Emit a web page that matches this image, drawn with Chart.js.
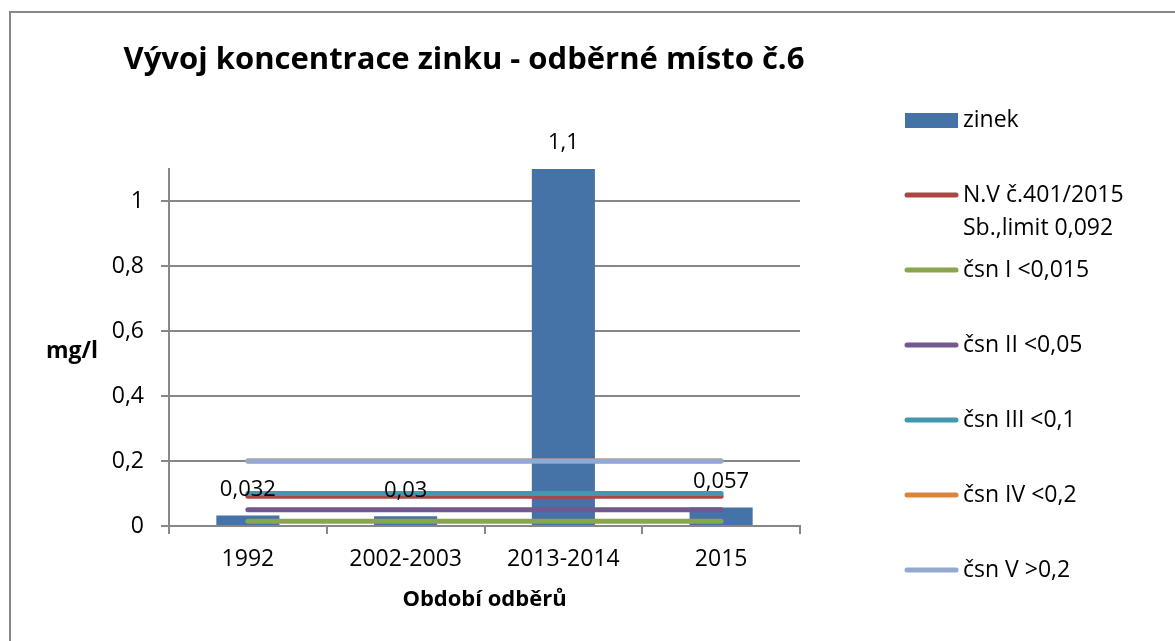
<!DOCTYPE html>
<html lang="cs">
<head>
<meta charset="utf-8">
<title>Vývoj koncentrace zinku</title>
<script src="https://cdn.jsdelivr.net/npm/chart.js@4.4.1/dist/chart.umd.min.js"></script>
<style>
  html, body { margin: 0; padding: 0; background: #fff; }
  #wrap { width: 1175px; height: 641px; position: relative; }
</style>
</head>
<body>
<div id="wrap"><canvas id="zincChart"></canvas></div>
<script>
/* ============================
   DATA
   ============================ */

const periods = ["1992", "2002-2003", "2013-2014", "2015"];

const zinc = [0.032, 0.03, 1.1, 0.057];

// limit lines (one value per period, the same across all)
const limitNV = [0.092, 0.092, 0.092, 0.092];
const csnI    = [0.015, 0.015, 0.015, 0.015];
const csnII   = [0.05, 0.05, 0.05, 0.05];
const csnIII  = [0.1, 0.1, 0.1, 0.1];
const csnIV   = [0.2, 0.2, 0.2, 0.2];
const csnV    = [0.2, 0.2, 0.2, 0.2];

const seriesNames = [
  "zinek",
  "N.V č.401/2015 Sb.,limit 0,092",
  "čsn I <0,015",
  "čsn II <0,05",
  "čsn III <0,1",
  "čsn IV <0,2",
  "čsn V >0,2"
];

const yTicks = [0, 0.2, 0.4, 0.6, 0.8, 1];

/* ============================
   STYLE
   ============================ */

const FONT = "'Open Sans', 'Noto Sans', sans-serif";
const gridColor = "#878787";
const colors = ["#4572A7", "#AA4643", "#89A54E", "#71588F", "#4198AF", "#DB843D", "#93A9CF"];

const fmt = v => String(Math.round(v * 1000) / 1000).replace(".", ",");

function lineSet(i, data) {
  return {
    type: "line",
    label: seriesNames[i],
    data: data,
    borderColor: colors[i],
    backgroundColor: colors[i],
    borderWidth: 5,
    borderCapStyle: "round",
    pointRadius: 0,
    pointHoverRadius: 0,
    fill: false,
    order: seriesNames.length - i
  };
}

/* ============================
   PLUGINS
   ============================ */

// frame, title, y-axis caption and the legend on the right
const decorations = {
  id: "decorations",
  beforeDraw(chart) {
    const c = chart.ctx;
    c.save();
    c.fillStyle = "#fff";
    c.fillRect(0, 0, chart.width, chart.height);
    c.strokeStyle = gridColor;
    c.lineWidth = 2;
    c.strokeRect(10, 12, chart.width + 20, chart.height + 20);
    c.restore();
  },
  afterDraw(chart) {
    const c = chart.ctx;
    c.save();
    c.fillStyle = "#000";
    c.textBaseline = "middle";

    c.font = "bold 31px " + FONT;
    c.textAlign = "center";
    c.fillText("Vývoj koncentrace zinku - odběrné místo č.6", 464, 60);

    c.font = "bold 23px " + FONT;
    c.fillText("mg/l", 72, 351);

    // legend
    c.textAlign = "left";
    c.font = "23px " + FONT;
    chart.data.datasets.forEach((ds, i) => {
      const y = 120 + i * 75;
      if (ds.type === "line") {
        c.strokeStyle = ds.borderColor;
        c.lineWidth = 5;
        c.lineCap = "round";
        c.beginPath();
        c.moveTo(907, y);
        c.lineTo(956, y);
        c.stroke();
      } else {
        c.fillStyle = ds.backgroundColor;
        c.fillRect(905, y - 7, 53, 15);
      }
      // wrap long names
      const words = ds.label.split(" ");
      const lines = [];
      let cur = "";
      words.forEach(w => {
        const test = cur ? cur + " " + w : w;
        if (c.measureText(test).width > 200 && cur) {
          lines.push(cur);
          cur = w;
        } else {
          cur = test;
        }
      });
      lines.push(cur);
      c.fillStyle = "#000";
      lines.forEach((t, k) => c.fillText(t, 963, y + k * 33));
    });
    c.restore();
  }
};

// value labels above the zinc bars
const barValues = {
  id: "barValues",
  afterDatasetsDraw(chart) {
    const c = chart.ctx;
    const meta = chart.getDatasetMeta(0);
    c.save();
    c.font = "22px " + FONT;
    c.fillStyle = "#000";
    c.textAlign = "center";
    c.textBaseline = "middle";
    meta.data.forEach((bar, i) => {
      c.fillText(fmt(chart.data.datasets[0].data[i]), bar.x, bar.y - 26);
    });
    c.restore();
  }
};

/* ============================
   CHART SETUP
   ============================ */

const ctx = document.getElementById("zincChart").getContext("2d");

const chart = new Chart(ctx, {
  data: {
    labels: periods,
    datasets: [
      {
        type: "bar",
        label: seriesNames[0],
        data: zinc,
        backgroundColor: colors[0],
        barPercentage: 0.4,
        categoryPercentage: 1,
        order: seriesNames.length
      },
      lineSet(1, limitNV),
      lineSet(2, csnI),
      lineSet(3, csnII),
      lineSet(4, csnIII),
      lineSet(5, csnIV),
      lineSet(6, csnV)
    ]
  },
  options: {
    responsive: true,
    maintainAspectRatio: false,
    animation: false,
    layout: { padding: { top: 169, right: 375, left: 0, bottom: 0 } },
    plugins: {
      legend: { display: false },
      tooltip: { enabled: false }
    },
    scales: {
      x: {
        offset: true,
        grid: {
          offset: true,
          drawOnChartArea: false,
          color: gridColor,
          lineWidth: 2,
          tickLength: 8
        },
        border: { color: gridColor, width: 2 },
        ticks: { color: "#000", font: { family: FONT, size: 23 }, padding: 12, maxRotation: 0 },
        title: {
          display: true,
          text: "Období odběrů",
          color: "#000",
          font: { family: FONT, size: 22, weight: "bold" },
          padding: { top: 0, bottom: 28 }
        },
        afterFit(scale) { scale.height = 115; }
      },
      y: {
        min: 0,
        max: 1.1,
        ticks: {
          color: "#000",
          font: { family: FONT, size: 23 },
          padding: 17,
          callback: v => fmt(v)
        },
        afterBuildTicks(scale) {
          scale.ticks = yTicks.map(v => ({ value: v }));
        },
        grid: { color: gridColor, lineWidth: 2, tickLength: 8 },
        border: { color: gridColor, width: 2 },
        afterFit(scale) { scale.width = 169; }
      }
    }
  },
  plugins: [decorations, barValues]
});
</script>
</body>
</html>
